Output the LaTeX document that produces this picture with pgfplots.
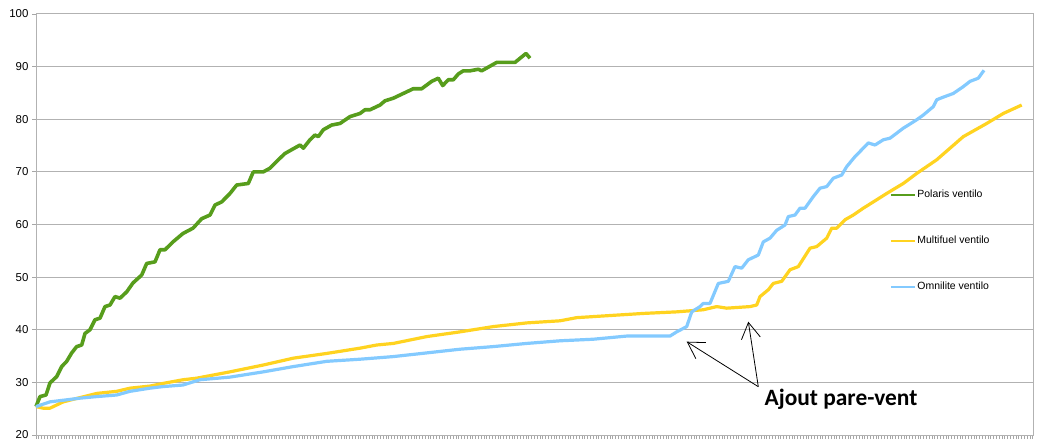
\documentclass[border=0pt]{standalone}
\usepackage{fontspec}
\setmainfont{Liberation Sans}
\newfontfamily\calibri{Carlito}
\usepackage{pgfplots}
\pgfplotsset{compat=1.18}
\usetikzlibrary{arrows.meta}

\definecolor{polaris}{HTML}{579D1C}
\definecolor{multifuel}{HTML}{FFD320}
\definecolor{omnilite}{HTML}{83CAFF}

\begin{document}
\begin{tikzpicture}
\begin{axis}[
  scale only axis,
  width=997bp, height=421bp,
  xmin=0, xmax=997, ymin=20, ymax=100,
  ytick={20,30,...,100},
  xtick={0},
  xticklabels={},
  minor xtick={2.8,5.6,...,997},
  xminorticks=true,
  tick pos=left,
  tick align=outside,
  major tick length=4bp,
  minor tick length=4bp,
  ymajorgrids,
  grid style={line width=1bp, color=gray!60},
  axis line style={line width=1bp, color=gray!60},
  tick style={line width=0.8bp, color=gray!70},
  minor tick style={line width=0.8bp, color=gray!70},
  /pgf/number format/assume math mode=true,
  yticklabel style={font=\fontsize{11.5}{13}\selectfont, black},
  clip=false,
  legend cell align=left,
  legend style={
    at={(rel axis cs:0.8533,0.5917)}, anchor=north west,
    draw=none, fill=none,
    font=\fontsize{10.5}{12}\selectfont,
    nodes={text height=8bp, text depth=2bp, inner sep=1.5bp},
    row sep=33bp,
  },
  legend image code/.code={\draw[#1, line width=2bp] (0bp,0bp) -- (24bp,0bp);},
]

% Polaris ventilo
\addplot[color=polaris, line width=3.6bp, line join=round] coordinates {
(0,25.4) (4,27.3) (10,27.6) (14,29.9) (20.7,31.1) (25.7,33) (30.7,34)
(35.7,35.6) (40.7,36.8) (45.7,37.1) (49,39.3) (54,40) (59,41.9) (64,42.2)
(69,44.4) (74,44.7) (79,46.3) (84,46) (90.7,47.2) (97,48.9) (105.7,50.4)
(110.7,52.6) (119,52.9) (124,55.2) (129,55.2) (137,56.7) (147,58.3)
(157,59.3) (165.7,61.1) (174,61.8) (179,63.7) (185.7,64.3) (194,65.9)
(200.7,67.5) (212.3,67.8) (217.3,70) (227.3,70) (234,70.7) (244,72.6)
(249,73.5) (264,75.1) (267.3,74.5) (274,76.1) (279,77) (282.3,76.7)
(287.3,78) (295.7,78.9) (304,79.2) (314,80.5) (324,81.1) (329,81.8)
(334,81.8) (344,82.7) (349,83.5) (357.3,84) (367.3,84.9) (377.3,85.8)
(385.7,85.8) (395.7,87.2) (402.3,87.8) (406.7,86.4) (412.3,87.5)
(417.3,87.5) (422.3,88.6) (427.3,89.2) (434,89.2) (442.3,89.5)
(445.7,89.2) (460.7,90.8) (479,90.8) (490,92.5) (494,91.6)
};
\addlegendentry{Polaris ventilo}

% Multifuel ventilo
\addplot[color=multifuel, line width=3.2bp, line join=round] coordinates {
(0,25.4) (7,25.1) (14,25.1) (27.3,26.3) (60.7,27.9) (80.7,28.3) (94,28.9)
(114,29.3) (127,29.8) (147,30.5) (160.7,30.8) (194,32) (227.3,33.3)
(257.3,34.6) (290.7,35.5) (324,36.5) (340.7,37.1) (357.3,37.4)
(390.7,38.7) (424,39.6) (457.3,40.6) (490.7,41.3) (524,41.7)
(540.7,42.3) (574,42.7) (607.3,43.1) (640.7,43.4) (667.3,43.8)
(680.7,44.4) (690.7,44.1) (714,44.4) (720.7,44.7) (724,46.3)
(732.3,47.6) (737.3,48.8) (745.7,49.2) (754,51.4) (762.3,52)
(774,55.5) (780.7,55.8) (790.7,57.4) (795.7,59.3) (800.7,59.3)
(809,60.9) (817.3,61.8) (827.3,63.1) (840.7,64.7) (850.7,65.9)
(867.3,67.8) (880.7,69.7) (900.7,72.3) (927.3,76.7) (950.7,79.2)
(967.3,81.1) (985.7,82.7)
};
\addlegendentry{Multifuel ventilo}

% Omnilite ventilo
\addplot[color=omnilite, line width=3.2bp, line join=round] coordinates {
(0,25.4) (14,26.3) (27,26.6) (44,27) (60.7,27.3) (80.7,27.6) (94,28.3)
(114,28.9) (127,29.2) (147,29.5) (164,30.5) (194,31) (227.3,32)
(257.3,33) (290.7,34) (324,34.4) (357.3,34.9) (390.7,35.6) (424,36.3)
(457.3,36.8) (490.7,37.4) (524,37.9) (557.3,38.2) (590.7,38.8)
(634,38.8) (640.7,39.6) (650.7,40.6) (655.7,43.4) (664,44.4)
(667.3,45) (674,45) (682.3,48.8) (692.3,49.2) (699,52) (705.7,51.7)
(712.3,53.3) (722.3,54.2) (727.3,56.7) (734,57.4) (740.7,58.9)
(749,59.9) (752.3,61.5) (759,61.8) (764,63.1) (769,63.1) (777.3,65.3)
(784,66.9) (790.7,67.2) (797.3,68.8) (805.7,69.4) (810.7,71) (819,72.9)
(825.7,74.2) (832.3,75.5) (839,75.1) (847.3,76.1) (854,76.4)
(867.3,78.3) (880.7,79.9) (887.3,80.8) (897.3,82.4) (900.7,83.7)
(907.3,84.2) (917.3,84.9) (927.3,86.2) (934,87.2) (942.3,87.8) (948,89.3)
};
\addlegendentry{Omnilite ventilo}

% annotation
\draw[line width=0.8bp, -{Straight Barb[length=16bp, width=19bp, line width=0.8bp]}]
  (axis cs:722.3,29.18) -- (axis cs:650.7,37.73);
\draw[line width=0.8bp, -{Straight Barb[length=16bp, width=19bp, line width=0.8bp]}]
  (axis cs:722.3,29.18) -- (axis cs:712.3,41.53);
\node[anchor=base, font=\calibri\bfseries\fontsize{23.5}{27}\selectfont, inner sep=0pt]
  at (axis cs:805,25.7) {Ajout pare-vent};
\end{axis}
\pgfresetboundingbox
\path[use as bounding box] ([shift={(-36bp,-10bp)}]current axis.south west)
  rectangle ([shift={(9bp,14bp)}]current axis.north east);
\end{tikzpicture}
\end{document}
